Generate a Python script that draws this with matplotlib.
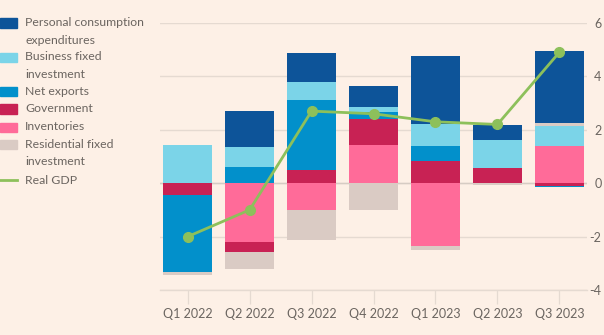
import matplotlib
matplotlib.use("Agg")
import matplotlib.pyplot as plt
import numpy as np
from matplotlib.patches import Rectangle
from matplotlib.lines import Line2D

plt.rcParams['font.family'] = ['Lato', 'DejaVu Sans']

# Contributions to US real GDP growth, percentage points
quarters = ["Q1 2022", "Q2 2022", "Q3 2022", "Q4 2022", "Q1 2023", "Q2 2023", "Q3 2023"]
pce = [0.0, 1.36, 1.07, 0.77, 2.55, 0.55, 2.72]
business_fixed = [1.43, 0.73, 0.69, 0.22, 0.82, 1.05, 0.78]
net_exports = [-2.87, 0.62, 2.60, 0.24, 0.59, 0.0, -0.05]
government = [-0.46, -0.35, 0.50, 0.98, 0.82, 0.58, -0.10]
inventories = [0.0, -2.21, -1.00, 1.43, -2.34, 0.0, 1.38]
residential = [-0.10, -0.66, -1.12, -1.00, -0.16, -0.08, 0.09]
real_gdp = [-2.0, -1.0, 2.7, 2.6, 2.3, 2.2, 4.9]

y_ticks = [-4, -2, 0, 2, 4, 6]
y_tick_labels = ["-4", "-2", "0", "2", "4", "6"]

BG = "#fdf0e6"
TEXT = "#6b6560"
GRID = "#e5dad1"
ZERO = "#d6ccc4"

C_PCE = "#0d5499"
C_BFI = "#7bd4e8"
C_NX = "#0290cb"
C_GOV = "#c82254"
C_INV = "#ff6b99"
C_RES = "#dacbc4"
C_GDP = "#8dc05b"

legend_items = [
    (["Personal consumption", "expenditures"], C_PCE),
    (["Business fixed", "investment"], C_BFI),
    (["Net exports"], C_NX),
    (["Government"], C_GOV),
    (["Inventories"], C_INV),
    (["Residential fixed", "investment"], C_RES),
]

W, H = 604, 335
fig = plt.figure(figsize=(W / 100, H / 100), dpi=100, facecolor=BG)
ax = fig.add_axes([160 / W, 45 / H, 427 / W, 267 / H])
ax.set_facecolor(BG)

x = np.arange(len(quarters))
bar_w = 0.79

# stacking order away from zero (positive and negative stacks separately)
series = [
    (inventories, C_INV),
    (government, C_GOV),
    (net_exports, C_NX),
    (business_fixed, C_BFI),
    (residential, C_RES),
    (pce, C_PCE),
]
pos_base = np.zeros(len(x))
neg_base = np.zeros(len(x))
for vals, col in series:
    v = np.array(vals, dtype=float)
    pos = np.where(v > 0, v, 0)
    neg = np.where(v < 0, v, 0)
    ax.bar(x, pos, bar_w, bottom=pos_base, color=col, zorder=2, linewidth=0)
    ax.bar(x, neg, bar_w, bottom=neg_base, color=col, zorder=2, linewidth=0)
    pos_base += pos
    neg_base += neg

ax.plot(x, real_gdp, color=C_GDP, lw=2, marker="o", markersize=7, zorder=4)

ax.set_xlim(-0.447, len(x) - 1 + 0.447)
ax.set_ylim(-4, 6)
ax.set_yticks(y_ticks)
ax.set_yticklabels(y_tick_labels)
ax.yaxis.tick_right()
for lab in ax.get_yticklabels():
    lab.set_horizontalalignment("right")
ax.set_xticks(x)
ax.set_xticklabels(quarters)

ax.grid(axis="y", color=GRID, lw=1)
ax.set_axisbelow(True)
ax.axhline(0, color=ZERO, lw=1, zorder=1)
for s in ["top", "left", "right"]:
    ax.spines[s].set_visible(False)
ax.spines["bottom"].set_color(GRID)
ax.spines["bottom"].set_linewidth(1)

ax.tick_params(axis="y", length=0, pad=10.5, labelsize=9, labelcolor=TEXT)
ax.tick_params(axis="x", length=10, width=0.9, color=GRID, pad=3,
               labelsize=9, labelcolor=TEXT)

# legend block at top left, laid out in pixel coordinates
def fy(py):
    return 1 - py / H

row_y = [23, 57, 92, 109, 127, 144]
line_step = 17.3
for (lines, col), py in zip(legend_items, row_y):
    fig.patches.append(Rectangle((0, fy(py + 4.5)), 17 / W, 9 / H,
                                 transform=fig.transFigure, color=col))
    for i, txt in enumerate(lines):
        fig.text(25 / W, fy(py + i * line_step), txt, ha="left", va="center",
                 fontsize=8.8, color=TEXT)
fig.lines.append(Line2D([0, 17 / W], [fy(179.5), fy(179.5)], transform=fig.transFigure,
                        color=C_GDP, lw=2))
fig.text(25 / W, fy(180), "Real GDP", ha="left", va="center", fontsize=8.8, color=TEXT)

fig.savefig("out.png", dpi=100, facecolor=BG)
